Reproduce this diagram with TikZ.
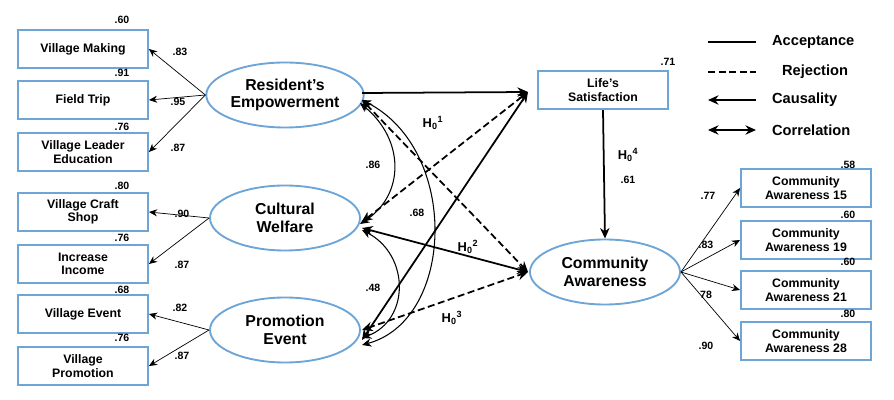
\documentclass[tikz,border=0pt]{standalone}
\usepackage{fontspec}
\setmainfont{Liberation Sans}
\usetikzlibrary{arrows.meta,shapes.geometric}
\definecolor{bx}{RGB}{110,165,215}
\newcommand{\hyp}[1]{H\textsubscript{0}\textsuperscript{#1}}
\begin{document}
\begin{tikzpicture}[x=0.03cm,y=-0.03cm,font=\bfseries\fontsize{10.5}{11.5}\selectfont,
 obs/.style={draw=bx,line width=1.6pt,minimum width=3.9cm,minimum height=1.15cm,align=center,inner sep=1pt},
 lat/.style={ellipse,draw=bx,line width=1.6pt,minimum width=4.5cm,minimum height=1.95cm,inner sep=1pt,align=center,font=\bfseries\fontsize{13.5}{15}\selectfont},
 ar/.style={-{Stealth[length=7pt,width=6pt]},line width=0.6pt},
 pa/.style={-{Stealth[length=9pt,width=8pt]},line width=1.5pt},
 da/.style={{Stealth[length=9pt,width=8pt]}-{Stealth[length=9pt,width=8pt]},line width=1.5pt,dash pattern=on 6pt off 3pt},
 sa/.style={{Stealth[length=9pt,width=8pt]}-{Stealth[length=9pt,width=8pt]},line width=1.5pt},
 ca/.style={{Stealth[length=8pt,width=7pt]}-{Stealth[length=8pt,width=7pt]},line width=0.9pt},
 nm/.style={font=\bfseries\fontsize{9}{10}\selectfont},
 hy/.style={font=\bfseries\fontsize{11}{12}\selectfont}]
\useasboundingbox (0,0) rectangle (894,400);
\node[obs] (vm) at (83,49) {Village Making};
\node[obs] (ft) at (83,100) {Field Trip};
\node[obs] (vl) at (83,152) {Village Leader\\Education};
\node[obs] (vc) at (83,212) {Village Craft\\Shop};
\node[obs] (ii) at (83,264) {Increase\\Income};
\node[obs] (ve) at (83,314) {Village Event};
\node[obs] (vp) at (83,366) {Village\\Promotion};
\node[lat] (re) at (285,95) {Resident's\\Empowerment};
\node[lat] (cw) at (285,218) {Cultural\\Welfare};
\node[lat] (pe) at (285,330) {Promotion\\Event};
\node[obs] (ls) at (603,90) {Life's\\Satisfaction};
\node[lat] (ca) at (605,272) {Community\\Awareness};
\node[obs] (c15) at (806,188) {Community\\Awareness 15};
\node[obs] (c19) at (806,240) {Community\\Awareness 19};
\node[obs] (c21) at (806,290) {Community\\Awareness 21};
\node[obs] (c28) at (806,341) {Community\\Awareness 28};
\foreach \t in {vm,ft,vl} \draw[ar] (re.west) -- (\t.east);
\foreach \t in {vc,ii} \draw[ar] (cw.west) -- (\t.east);
\foreach \t in {ve,vp} \draw[ar] (pe.west) -- (\t.east);
\foreach \t in {c15,c19,c21,c28} \draw[ar] (ca.east) -- (\t.west);
\draw[pa] (ls.south) -- (ca.north);
\coordinate (lsw) at (528,92);
\coordinate (caw) at (528,272);
\draw[pa] (362,93) -- (lsw);
\draw[da] (362,222) -- (lsw);
\draw[sa] (362,340) -- (lsw);
\draw[da] (362,100) -- (caw);
\draw[sa] (362,228) -- (caw);
\draw[da] (362,330) -- (caw);
\draw[ca] (360,103) .. controls (405,140) and (405,195) .. (360,224);
\draw[ca] (362,100) .. controls (460,150) and (455,320) .. (362,345);
\draw[ca] (362,230) .. controls (410,255) and (410,320) .. (362,338);
\foreach \p/\l in {{122,20}/.60,{122,73}/.91,{122,127}/.76,{122,186}/.80,{122,238}/.76,{122,290}/.68,{122,338}/.76,
 {180,52}/.83,{178,102}/.95,{178,148}/.87,{182,214}/.90,{182,265}/.87,{180,308}/.82,{182,356}/.87,
 {668,62}/.71,{848,165}/.58,{848,215}/.60,{848,262}/.60,{848,314}/.80,
 {708,196}/.77,{706,245}/.83,{706,295}/78,{706,346}/.90,{628,180}/.61,
 {373,165}/.86,{417,213}/.68,{373,288}/.48}
 \node[nm] at (\p) {\l};
\node[hy] at (628,155) {\hyp{4}};
\node[hy] at (433,123) {\hyp{1}};
\node[hy] at (468,247) {\hyp{2}};
\node[hy] at (452,318) {\hyp{3}};
\coordinate (l1a) at (708,42); \coordinate (l1b) at (756,42);
\coordinate (l2a) at (708,72); \coordinate (l2b) at (756,72);
\coordinate (l3a) at (708,100); \coordinate (l3b) at (756,100);
\coordinate (l4a) at (708,130); \coordinate (l4b) at (756,130);
\draw[line width=1.5pt] (l1a) -- (l1b);
\draw[line width=1.5pt,dash pattern=on 6pt off 3pt] (l2a) -- (l2b);
\draw[line width=1.5pt,-{Stealth[length=9pt,width=8pt]}] (l3b) -- (l3a);
\draw[sa] (l4a) -- (l4b);
\node[anchor=west,font=\bfseries\fontsize{12.5}{13}\selectfont] at (768,42) {Acceptance};
\node[anchor=west,font=\bfseries\fontsize{12.5}{13}\selectfont] at (778,72) {Rejection};
\node[anchor=west,font=\bfseries\fontsize{12.5}{13}\selectfont] at (768,100) {Causality};
\node[anchor=west,font=\bfseries\fontsize{12.5}{13}\selectfont] at (768,130) {Correlation};
\end{tikzpicture}
\end{document}
